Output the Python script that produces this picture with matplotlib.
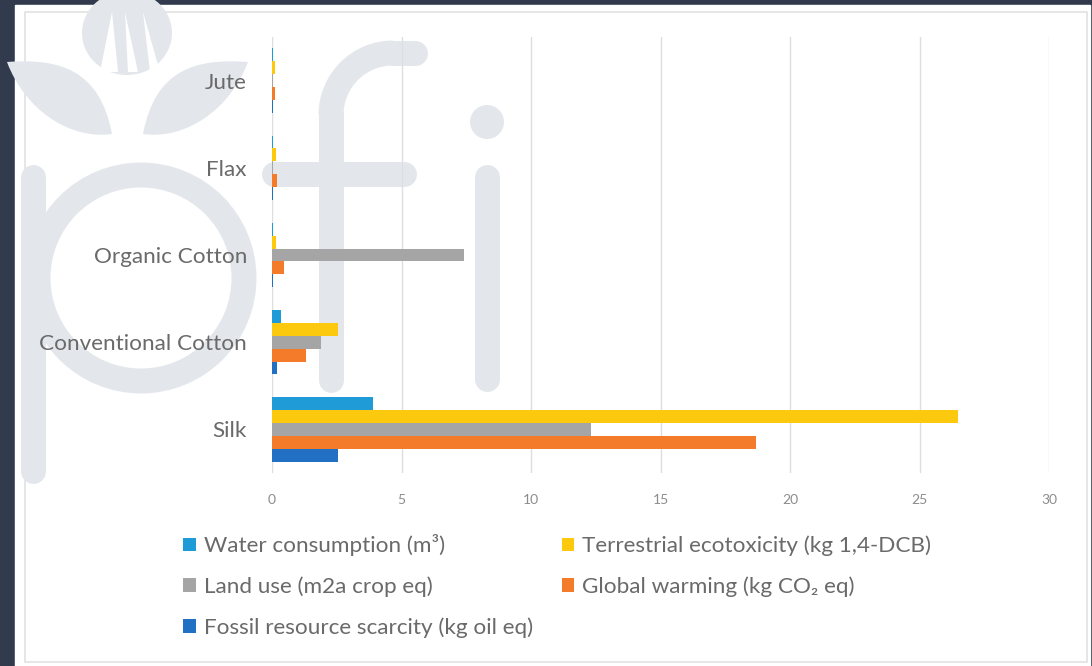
import numpy as np
import matplotlib
matplotlib.use("Agg")
import matplotlib.pyplot as plt
from matplotlib.patches import Rectangle, Circle, Ellipse, PathPatch, Arc
from matplotlib.path import Path

plt.rcParams['font.family'] = ['Lato', 'DejaVu Sans']

# data
categories = ['Silk', 'Conventional Cotton', 'Organic Cotton', 'Flax', 'Jute']
water = [3.9, 0.35, 0.02, 0.05, 0.02]
terrestrial = [26.5, 2.55, 0.15, 0.15, 0.1]
land_use = [12.3, 1.9, 7.4, 0.05, 0.05]
global_warming = [18.7, 1.3, 0.45, 0.2, 0.12]
fossil = [2.55, 0.2, 0.02, 0.02, 0.02]

series = [
    ('Water consumption (m³)', water, '#1f9bd7'),
    ('Terrestrial ecotoxicity (kg 1,4-DCB)', terrestrial, '#fdc90f'),
    ('Land use (m2a crop eq)', land_use, '#a5a5a5'),
    ('Global warming (kg CO₂ eq)', global_warming, '#f47b2a'),
    ('Fossil resource scarcity (kg oil eq)', fossil, '#2270c4'),
]

W, H = 1092, 666
fig = plt.figure(figsize=(W / 100, H / 100), dpi=100)
fig.patch.set_facecolor('#ffffff')

# dark frame around the white panel + faint "pfi" watermark behind the chart
bg = fig.add_axes([0, 0, 1, 1], zorder=-5)
bg.set_xlim(0, W)
bg.set_ylim(H, 0)
bg.axis('off')
bg.add_patch(Rectangle((0, 0), W, H, color='#323b4e'))
bg.add_patch(Rectangle((15, 5), W - 17, H - 5, color='#ffffff'))
bg.add_patch(Rectangle((25, 12), 1062, 650, fill=False, ec='#e2e2e2', lw=1.2))

wcol = '#e3e7ec'
lw = 18
bg.plot([33, 33], [177, 471], color=wcol, lw=lw, solid_capstyle='round')
bg.add_patch(Circle((141, 278), 103, fill=False, ec=wcol, lw=lw))
bg.plot([331, 331], [380, 115], color=wcol, lw=lw, solid_capstyle='round')
bg.add_patch(Arc((393, 115), 124, 124, theta1=180, theta2=270, ec=wcol, lw=lw))
bg.plot([393, 415], [53, 53], color=wcol, lw=lw, solid_capstyle='round')
bg.plot([274, 404], [174, 174], color=wcol, lw=lw, solid_capstyle='round')
bg.plot([487, 487], [177, 379], color=wcol, lw=lw, solid_capstyle='round')
bg.add_patch(Circle((487, 122), 17, color=wcol, lw=0))
leaf_l = Path([(7, 62), (60, 58), (100, 70), (112, 134), (70, 140), (25, 110), (7, 62)],
              [Path.MOVETO, Path.CURVE4, Path.CURVE4, Path.CURVE4, Path.CURVE4, Path.CURVE4, Path.CURVE4])
leaf_r = Path([(248, 62), (195, 58), (155, 70), (143, 134), (185, 140), (230, 110), (248, 62)],
              [Path.MOVETO, Path.CURVE4, Path.CURVE4, Path.CURVE4, Path.CURVE4, Path.CURVE4, Path.CURVE4])
bg.add_patch(PathPatch(leaf_l, color=wcol, lw=0))
bg.add_patch(PathPatch(leaf_r, color=wcol, lw=0))
bg.add_patch(Ellipse((127, 33), 90, 84, color=wcol, lw=0))
for xs in [(100, 112, 118), (128, 125, 138), (150, 143, 160)]:
    bg.fill([xs[0], xs[1], xs[2]], [72, 12, 72], color='#ffffff', lw=0)

ax = fig.add_axes([272 / W, 1 - 473 / H, (1049 - 272) / W, (473 - 37) / H])
ax.set_facecolor('none')

y = np.arange(len(categories))
h = 0.148
offsets = [2 * h, h, 0, -h, -2 * h]
handles = []
for (label, vals, color), off in zip(series, offsets):
    b = ax.barh(y + off, vals, height=h, color=color, label=label, zorder=3)
    handles.append(b)

ax.set_xlim(0, 30)
ax.set_ylim(-0.5, 4.5)
ax.set_xticks(np.arange(0, 31, 5))
ax.set_yticks(y)
ax.set_yticklabels(categories)
ax.grid(axis='x', color='#dedede', lw=1.0, zorder=0)
for s in ax.spines.values():
    s.set_visible(False)
ax.tick_params(axis='both', length=0)
ax.tick_params(axis='x', labelsize=10, labelcolor='#8c8c8c', pad=15)
ax.tick_params(axis='y', labelsize=16.2, labelcolor='#6a6a6a', pad=18)

order = [0, 2, 4, 1, 3]
fig.legend([handles[i] for i in order], [series[i][0] for i in order],
           ncol=2, loc='upper left', bbox_to_anchor=(172 / W, 1 - 523 / H),
           frameon=False, fontsize=16.2, labelcolor='#6a6a6a',
           handlelength=0.55, handleheight=0.55, handletextpad=0.35,
           labelspacing=0.9, columnspacing=1.3, borderpad=0)

fig.savefig('out.png', dpi=100)
